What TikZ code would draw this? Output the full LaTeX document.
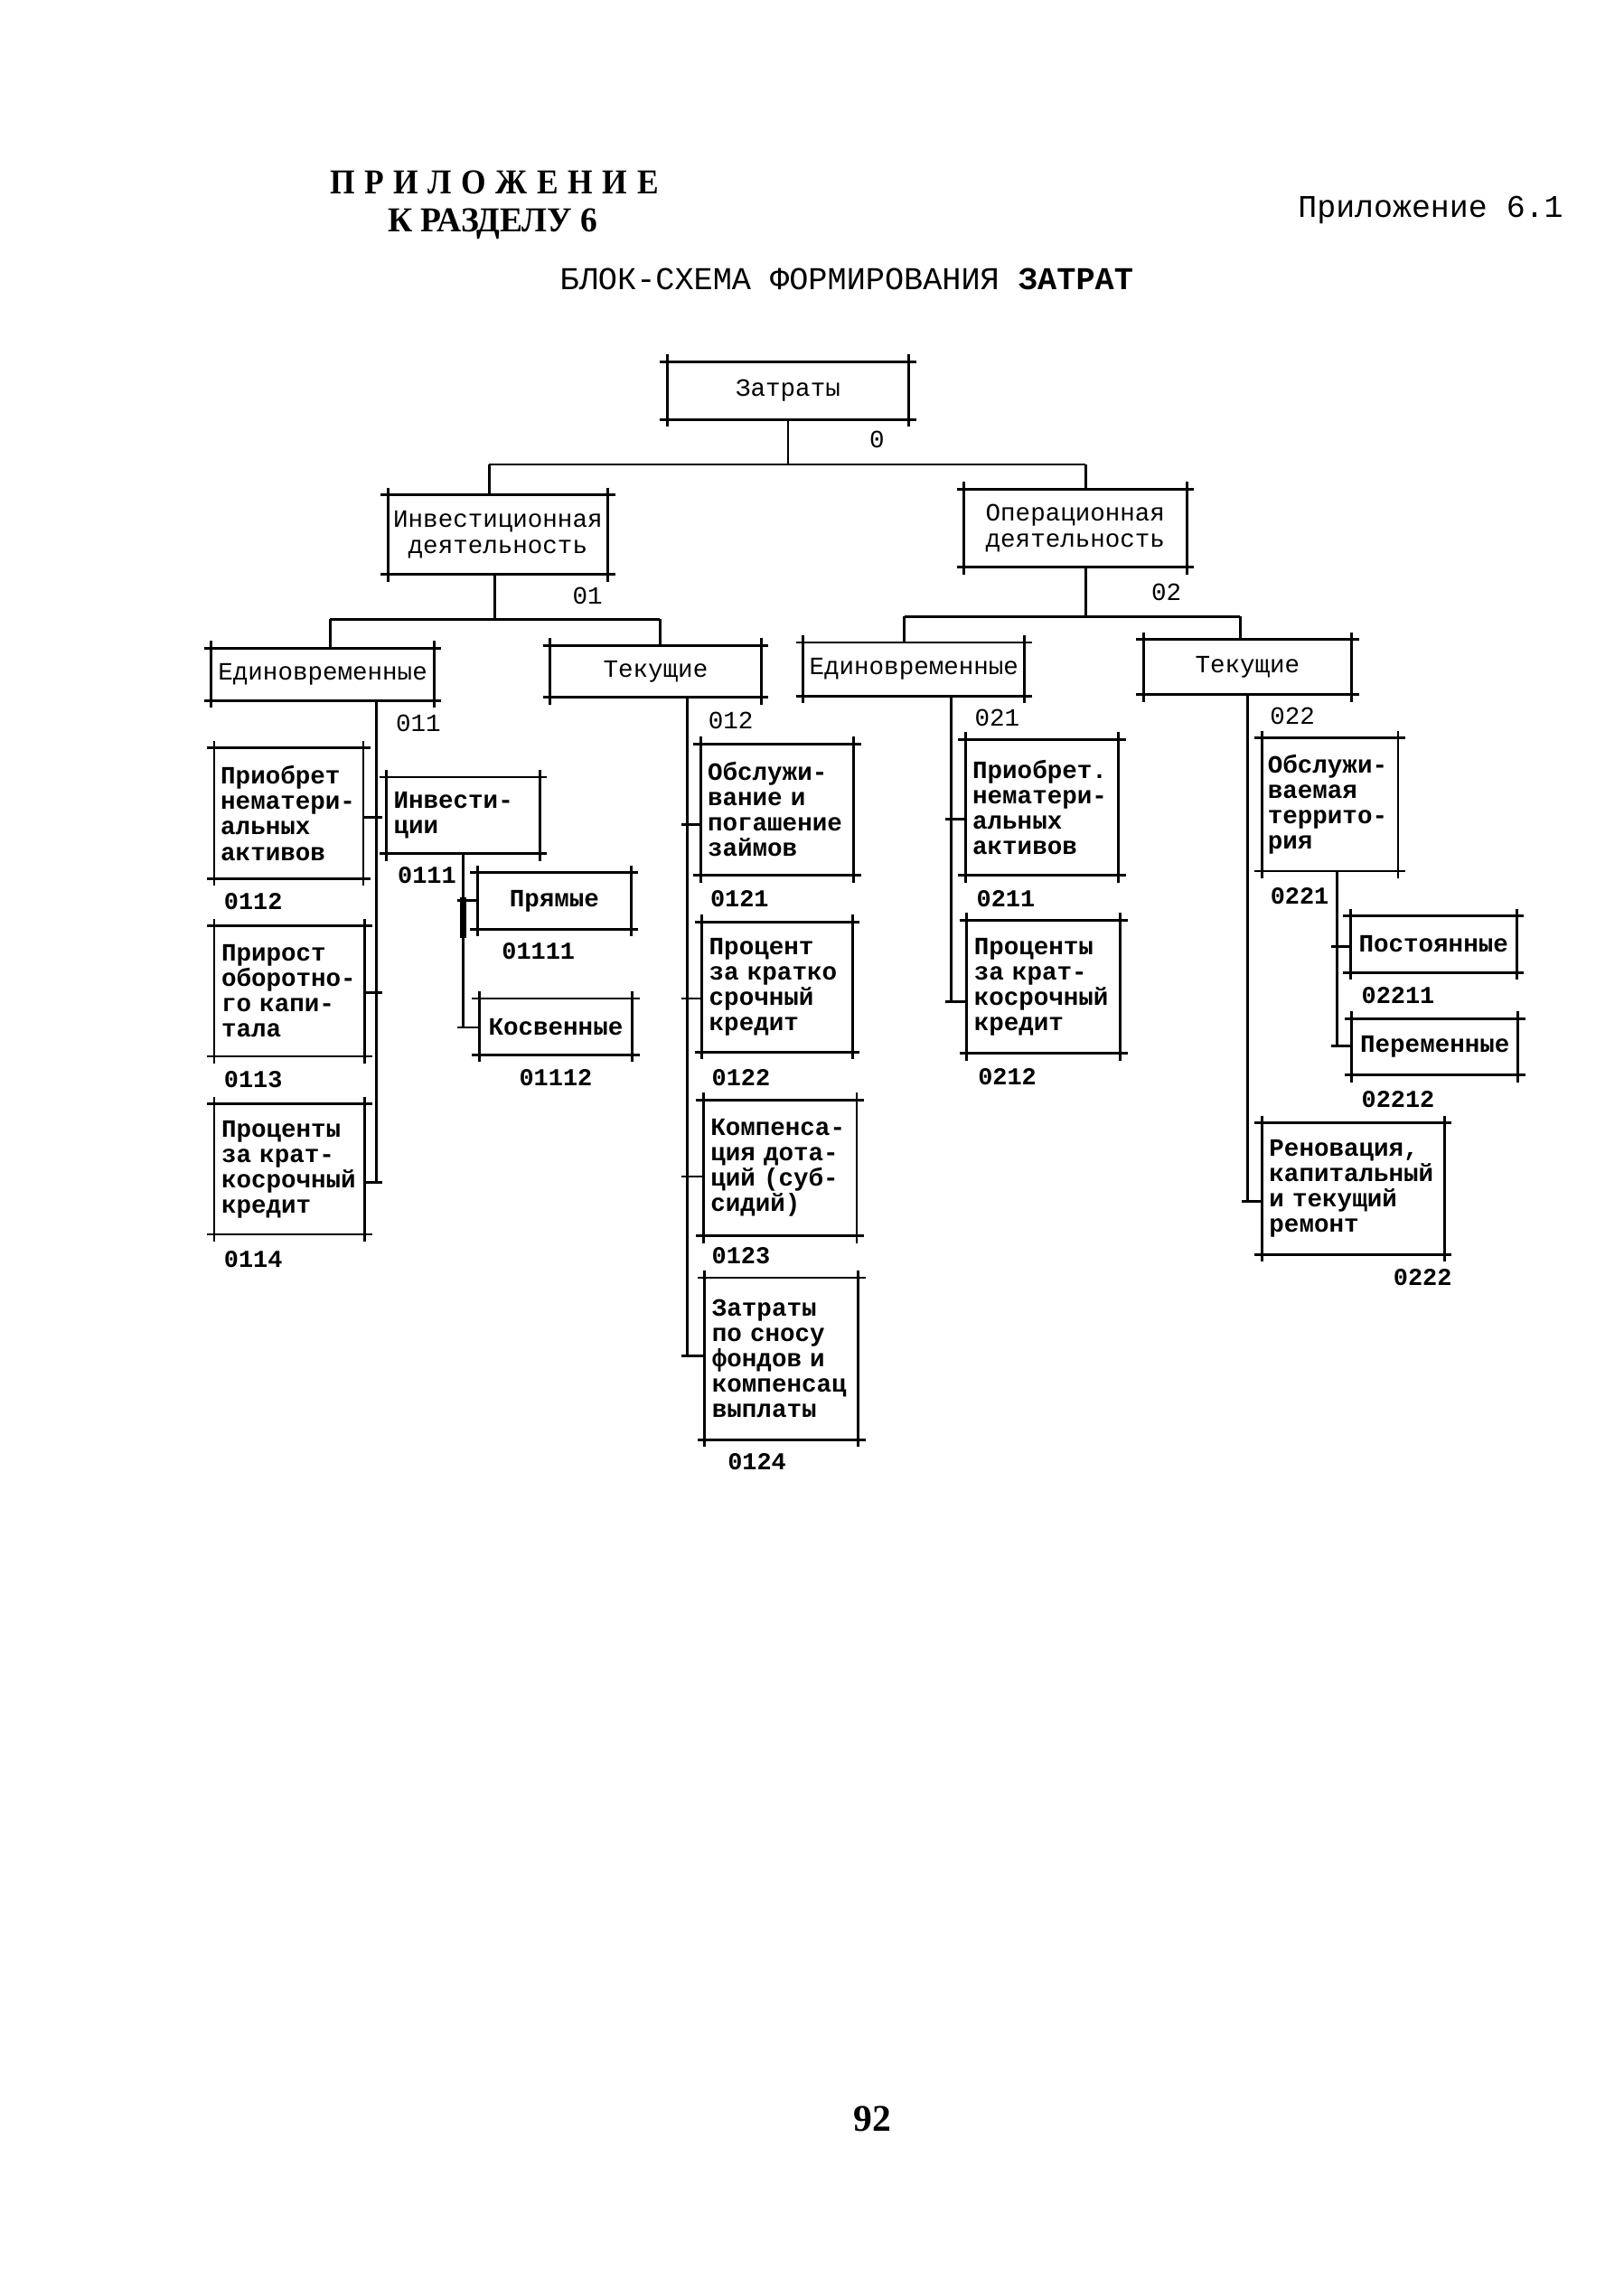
\documentclass[tikz,border=0pt]{standalone}
\usepackage{graphicx}
\usepackage{fontspec}
\setmainfont{Liberation Serif}
\newfontfamily\mono{Liberation Mono}
\tikzset{
  bx/.style={draw, line width=0.9pt, inner sep=0pt, outer sep=0pt, align=center,
    font=\mono\fontsize{8.6}{9}\selectfont},
  sbx/.style={bx, align=left, font=\mono\bfseries\fontsize{8.6}{8.75}\selectfont},
  cbx/.style={bx, font=\mono\bfseries\fontsize{8.6}{8.75}\selectfont},
  lbl/.style={inner sep=0pt, font=\mono\bfseries\fontsize{8.4}{9}\selectfont},
  lblr/.style={inner sep=0pt, font=\mono\fontsize{8.6}{9}\selectfont},
  con/.style={line width=0.9pt},
  ext/.style={line width=0.9pt, shorten <=-2.5pt, shorten >=-2.5pt},
}
\begin{document}
\begin{tikzpicture}[x=0.5pt,y=-0.5pt]
\useasboundingbox (0,0) rectangle (1122,1568);

% ---------- headings ----------
\node[inner sep=0pt] (h1) at (341.5,126)
  {\resizebox{113.5pt}{8pt}{\bfseries П\hspace{0.3em}Р\hspace{0.3em}И\hspace{0.3em}Л\hspace{0.3em}О\hspace{0.3em}Ж\hspace{0.3em}Е\hspace{0.3em}Н\hspace{0.3em}И\hspace{0.3em}Е}};
\node[inner sep=0pt, anchor=base] (h2) at (340.5,160)
  {\resizebox{72.5pt}{8pt}{\bfseries К РАЗДЕЛУ 6}};
\node[inner sep=0pt, font=\mono\fontsize{10.9}{12}\selectfont] (h3) at (988.5,145) {Приложение 6.1};
\node[inner sep=0pt, font=\mono\fontsize{11}{12}\selectfont] (h4) at (585,193) {БЛОК-СХЕМА ФОРМИРОВАНИЯ \textbf{ЗАТРАТ}};
\node[inner sep=0pt, font=\bfseries\fontsize{13}{14}\selectfont] (pg) at (603,1464) {92};

% ---------- top levels ----------
\node[bx, minimum width=83.5pt, minimum height=20pt] (zat) at (544.5,270) {Затраты};
\node[bx, minimum width=76pt, minimum height=27.5pt] (inv) at (344,369.5) {Инвестиционная\\деятельность};
\node[bx, minimum width=77pt, minimum height=27pt] (opr) at (743,365) {Операционная\\деятельность};
\node[bx, minimum width=77pt, minimum height=18pt] (ed1) at (223,466) {Единовременные};
\node[bx, minimum width=73pt, minimum height=18pt] (tek1) at (453,464) {Текущие};
\node[bx, minimum width=76.5pt, minimum height=18.5pt] (ed2) at (631.5,462.5) {Единовременные};
\node[bx, minimum width=72pt, minimum height=19pt] (tek2) at (862,461) {Текущие};

% ---------- 011 branch ----------
\node[sbx, minimum width=51.5pt, minimum height=45pt, text width=47pt] (b0112) at (199.5,562) {Приобрет\\нематери-\\альных\\активов};
\node[sbx, minimum width=52pt, minimum height=45pt, text width=47pt] (b0113) at (200,685) {Прирост\\оборотно-\\го капи-\\тала};
\node[sbx, minimum width=52pt, minimum height=45pt, text width=47pt] (b0114) at (200,808) {Проценты\\за крат-\\косрочный\\кредит};
\node[sbx, minimum width=53pt, minimum height=26.5pt, text width=48pt] (b0111) at (320,563.5) {Инвести-\\ции};
\node[cbx, minimum width=53pt, minimum height=19.5pt] (b01111) at (383,622.5) {Прямые};
\node[cbx, minimum width=53pt, minimum height=19.5pt] (b01112) at (384,709.5) {Косвенные};

% ---------- 012 branch ----------
\node[sbx, minimum width=53pt, minimum height=45.5pt, text width=48pt] (b0121) at (537,559.5) {Обслужи-\\вание и\\погашение\\займов};
\node[sbx, minimum width=52pt, minimum height=45pt, text width=47pt] (b0122) at (537,682) {Процент\\за кратко\\срочный\\кредит};
\node[sbx, minimum width=53pt, minimum height=47pt, text width=48pt] (b0123) at (539,807) {Компенса-\\ция дота-\\ций (суб-\\сидий)};
\node[sbx, minimum width=53pt, minimum height=56pt, text width=48pt] (b0124) at (540,939) {Затраты\\по сносу\\фондов и\\компенсац\\выплаты};

% ---------- 021 branch ----------
\node[sbx, minimum width=53pt, minimum height=47pt, text width=48pt] (b0211) at (720,558) {Приобрет.\\нематери-\\альных\\активов};
\node[sbx, minimum width=53pt, minimum height=46pt, text width=48pt] (b0212) at (721,682) {Проценты\\за крат-\\косрочный\\кредит};

% ---------- 022 branch ----------
\node[sbx, minimum width=47pt, minimum height=46pt, text width=43pt] (b0221) at (919,556) {Обслужи-\\ваемая\\террито-\\рия};
\node[cbx, minimum width=57.5pt, minimum height=19.5pt] (b02211) at (990.5,652.5) {Постоянные};
\node[cbx, minimum width=57.5pt, minimum height=19.5pt] (b02212) at (991.5,723.5) {Переменные};
\node[sbx, minimum width=63pt, minimum height=45.5pt, text width=58pt] (b0222) at (935,821.5) {Реновация,\\капитальный\\и текущий\\ремонт};

% ---------- corner overshoots ----------
\foreach \n in {zat,inv,opr,ed1,tek1,ed2,tek2,b0112,b0113,b0114,b0111,b01111,b01112,
  b0121,b0122,b0123,b0124,b0211,b0212,b0221,b02211,b02212,b0222}{
  \draw[ext] (\n.north west) -- (\n.north east);
  \draw[ext] (\n.south west) -- (\n.south east);
  \draw[ext] (\n.north west) -- (\n.south west);
  \draw[ext] (\n.north east) -- (\n.south east);
}

% ---------- code labels ----------
\node[lblr] (l0) at (606,304) {0};
\node[lblr] (l01) at (406,412) {01};
\node[lblr] (l02) at (806,409) {02};
\node[lblr] (l011) at (289,500) {011};
\node[lblr] (l012) at (505,498) {012};
\node[lblr] (l021) at (689,496) {021};
\node[lblr] (l022) at (893,495) {022};
\node[lbl] (l0112) at (175,623) {0112};
\node[lbl] (l0113) at (175,746) {0113};
\node[lbl] (l0114) at (175,870) {0114};
\node[lbl] (l0111) at (295,605) {0111};
\node[lbl] (l01111) at (372,657) {01111};
\node[lbl] (l01112) at (384,745) {01112};
\node[lbl] (l0121) at (511,621) {0121};
\node[lbl] (l0122) at (512,745) {0122};
\node[lbl] (l0123) at (512,868) {0123};
\node[lbl] (l0124) at (523,1010) {0124};
\node[lbl] (l0211) at (695,621) {0211};
\node[lbl] (l0212) at (696,744) {0212};
\node[lbl] (l0221) at (898,619) {0221};
\node[lbl] (l02211) at (966,688) {02211};
\node[lbl] (l02212) at (966,760) {02212};
\node[lbl] (l0222) at (983,883) {0222};

% ---------- connectors: level 0 ----------
\coordinate (j0) at (544.5,321);
\coordinate (bus0L) at (338,321);
\coordinate (bus0R) at (750,321);
\draw[con] (zat.south) -- (j0);
\draw[con] (bus0L) -- (bus0R);
\draw[con] (bus0L) -- (bus0L |- inv.north);
\draw[con] (bus0R) -- (bus0R |- opr.north);

% ---------- level 1 ----------
\coordinate (j1) at (342,428);
\coordinate (bus1L) at (228,428);
\coordinate (bus1R) at (456,428);
\draw[con] (j1 |- inv.south) -- (j1);
\draw[con] (bus1L) -- (bus1R);
\draw[con] (bus1L) -- (bus1L |- ed1.north);
\draw[con] (bus1R) -- (bus1R |- tek1.north);

\coordinate (j2) at (750,426);
\coordinate (bus2L) at (625,426);
\coordinate (bus2R) at (857,426);
\draw[con] (j2 |- opr.south) -- (j2);
\draw[con] (bus2L) -- (bus2R);
\draw[con] (bus2L) -- (bus2L |- ed2.north);
\draw[con] (bus2R) -- (bus2R |- tek2.north);

% ---------- 011 column ----------
\coordinate (v11) at (260,817);
\draw[con] (v11 |- ed1.south) -- (v11);
\coordinate (s0112) at (260,565);
\coordinate (s0113) at (260,686);
\coordinate (s0114) at (260,817);
\draw[con, shorten <=-2pt] (s0112) -- (s0112 -| b0112.east);
\draw[con, shorten <=-2pt] (s0113) -- (s0113 -| b0113.east);
\draw[con, shorten <=-2pt] (s0114) -- (s0114 -| b0114.east);

\coordinate (v111) at (320,710);
\draw[con] (v111 |- b0111.south) -- (v111);
\draw[line width=2pt] (320,620) -- (320,648);
\coordinate (s01111) at (320,622);
\coordinate (s01112) at (320,710);
\draw[con, shorten <=-2pt] (s01111) -- (s01111 -| b01111.west);
\draw[con, shorten <=-2pt] (s01112) -- (s01112 -| b01112.west);

% ---------- 012 column ----------
\coordinate (v12) at (475,937);
\draw[con] (v12 |- tek1.south) -- (v12);
\coordinate (s0121) at (475,570);
\coordinate (s0122) at (475,690);
\coordinate (s0123) at (475,813);
\coordinate (s0124) at (475,937);
\draw[con, shorten <=-2pt] (s0121) -- (s0121 -| b0121.west);
\draw[con, shorten <=-2pt] (s0122) -- (s0122 -| b0122.west);
\draw[con, shorten <=-2pt] (s0123) -- (s0123 -| b0123.west);
\draw[con, shorten <=-2pt] (s0124) -- (s0124 -| b0124.west);

% ---------- 021 column ----------
\coordinate (v21) at (657,692);
\draw[con] (v21 |- ed2.south) -- (v21);
\coordinate (s0211) at (657,566);
\coordinate (s0212) at (657,692);
\draw[con, shorten <=-2pt] (s0211) -- (s0211 -| b0211.west);
\draw[con, shorten <=-2pt] (s0212) -- (s0212 -| b0212.west);

% ---------- 022 column ----------
\coordinate (v22) at (862,830);
\draw[con] (v22 |- tek2.south) -- (v22);
\coordinate (s0222) at (862,830);
\draw[con, shorten <=-2pt] (s0222) -- (s0222 -| b0222.west);

\coordinate (v221) at (924,723);
\draw[con] (v221 |- b0221.south) -- (v221);
\coordinate (s02211) at (924,654);
\coordinate (s02212) at (924,723);
\draw[con, shorten <=-2pt] (s02211) -- (s02211 -| b02211.west);
\draw[con, shorten <=-2pt] (s02212) -- (s02212 -| b02212.west);
\end{tikzpicture}
\end{document}
